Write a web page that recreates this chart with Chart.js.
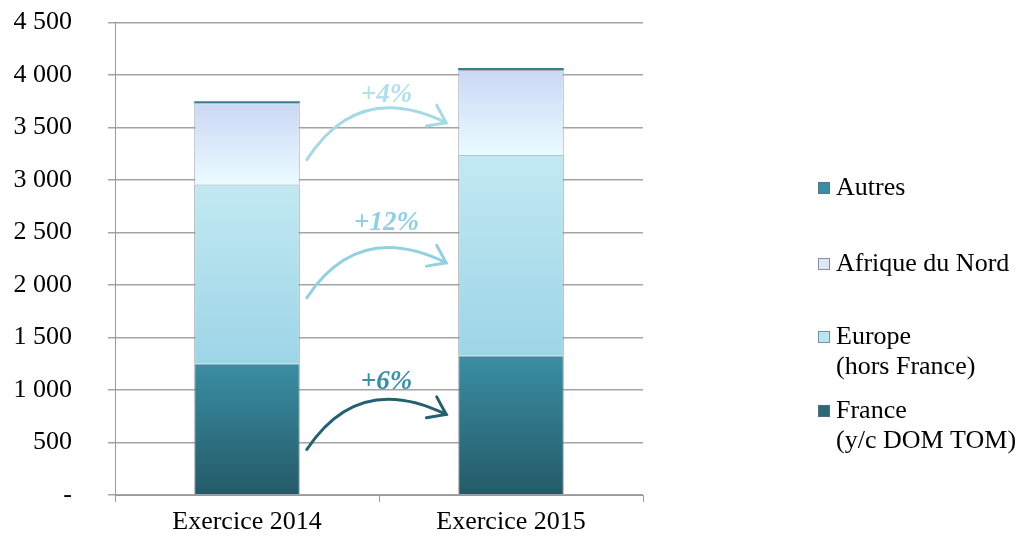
<!DOCTYPE html>
<html lang="fr">
<head>
<meta charset="utf-8">
<title>Répartition par zone géographique</title>
<script src="https://cdn.jsdelivr.net/npm/chart.js@4.4.1/dist/chart.umd.min.js"></script>
<style>
  html, body { margin: 0; padding: 0; background: #fff; }
  #wrap { width: 1026px; height: 539px; }
</style>
</head>
<body>
<div id="wrap"><canvas id="chart" width="1026" height="539"></canvas></div>
<script>
const exercices = ['Exercice 2014', 'Exercice 2015'];

// stacked from bottom to top
const france = [1250, 1326];
const europe = [1706, 1914];
const afriqueNord = [776, 808];
const autres = [18, 18];

const yTicks = [0, 500, 1000, 1500, 2000, 2500, 3000, 3500, 4000, 4500];

// growth arrows between the two bars (values on the y scale)
const growthLabels = ['+6%', '+12%', '+4%'];
const arrowFrom = [433, 1878, 3193];
const arrowTo = [767, 2211, 3545];
const labelAt = [1078, 2590, 3811];

const serif = '"Liberation Serif", "Times New Roman", serif';

const seriesData = [france, europe, afriqueNord, autres];

function segmentGradient(ctx, top, bottom) {
  const chart = ctx.chart;
  const area = chart.chartArea;
  if (!area || ctx.dataIndex === undefined) return top;
  const y = chart.scales.y;
  let base = 0;
  for (let i = 0; i < ctx.datasetIndex; i++) base += seriesData[i][ctx.dataIndex];
  const v = seriesData[ctx.datasetIndex][ctx.dataIndex];
  const y0 = y.getPixelForValue(base + v);
  const y1 = y.getPixelForValue(base);
  const g = chart.ctx.createLinearGradient(0, y0, 0, Math.max(y1, y0 + 1));
  g.addColorStop(0, top);
  g.addColorStop(1, bottom);
  return g;
}

const legendPlugin = {
  id: 'sideLegend',
  afterDraw(chart) {
    const { ctx } = chart;
    const rows = [188, 264, 337, 411];
    const swatch = ['#3a8ea2', '#dfe8f8', '#b9e4f0', '#2c6a7a'];
    const ds = chart.data.datasets.slice().reverse();
    ctx.save();
    ctx.font = '26px ' + serif;
    ctx.textBaseline = 'middle';
    ds.forEach((d, i) => {
      const y = rows[i];
      ctx.fillStyle = swatch[i];
      ctx.fillRect(818, y - 6, 12, 12);
      ctx.strokeStyle = 'rgba(90,110,120,0.7)';
      ctx.lineWidth = 1;
      ctx.strokeRect(818.5, y - 5.5, 11, 11);
      ctx.fillStyle = '#000';
      const lines = Array.isArray(d.label) ? d.label : [d.label];
      lines.forEach((t, k) => ctx.fillText(t, 836, y + k * 30));
    });
    ctx.restore();
  }
};

const arrowPlugin = {
  id: 'growthArrows',
  afterDatasetsDraw(chart) {
    const { ctx } = chart;
    const y = chart.scales.y;
    const bar0 = chart.getDatasetMeta(0).data[0];
    const bar1 = chart.getDatasetMeta(0).data[1];
    const x0 = bar0.x + bar0.width / 2 + 7;
    const x1 = bar1.x - bar1.width / 2 - 12;
    const strokes = ['#25606f', '#93d0e2', '#a6d9e8'];
    const texts = ['#3b8fa4', '#8fcfe1', '#b2dfeb'];
    ctx.save();
    growthLabels.forEach((lbl, i) => {
      const ys = y.getPixelForValue(arrowFrom[i]);
      const ye = y.getPixelForValue(arrowTo[i]);
      const cx = x0 + (x1 - x0) * 0.37;
      const cy = ye - 43;
      ctx.strokeStyle = strokes[i];
      ctx.lineWidth = 3;
      ctx.lineCap = 'round';
      ctx.beginPath();
      ctx.moveTo(x0, ys);
      ctx.quadraticCurveTo(cx, cy, x1, ye);
      ctx.stroke();
      // arrow head along the end tangent
      const ang = Math.atan2(ye - cy, x1 - cx);
      const len = 20;
      ctx.beginPath();
      ctx.moveTo(x1 + len * Math.cos(ang + Math.PI - 0.62), ye + len * Math.sin(ang + Math.PI - 0.62));
      ctx.lineTo(x1, ye);
      ctx.lineTo(x1 + len * Math.cos(ang + Math.PI + 0.62), ye + len * Math.sin(ang + Math.PI + 0.62));
      ctx.stroke();
      ctx.fillStyle = texts[i];
      ctx.font = 'italic bold 27px ' + serif;
      ctx.textAlign = 'center';
      ctx.textBaseline = 'middle';
      ctx.fillText(lbl, (x0 + x1) / 2 + 10, y.getPixelForValue(labelAt[i]));
    });
    ctx.restore();
  }
};

const edge = 'rgba(115,130,140,0.75)';

new Chart(document.getElementById('chart'), {
  type: 'bar',
  data: {
    labels: exercices,
    datasets: [
      {
        label: ['France', '(y/c DOM TOM)'],
        data: france,
        backgroundColor: c => segmentGradient(c, '#3a8ea3', '#245a68'),
        borderColor: edge, borderWidth: 1
      },
      {
        label: ['Europe', '(hors France)'],
        data: europe,
        backgroundColor: c => segmentGradient(c, '#c2e9f2', '#9dd5e7'),
        borderColor: edge, borderWidth: 1
      },
      {
        label: ['Afrique du Nord'],
        data: afriqueNord,
        backgroundColor: c => segmentGradient(c, '#cbd8f5', '#eafbff'),
        borderColor: 'rgba(140,150,160,0.75)', borderWidth: 1
      },
      {
        label: ['Autres'],
        data: autres,
        backgroundColor: '#3a7f8e',
        borderWidth: 0
      }
    ]
  },
  options: {
    responsive: false,
    animation: false,
    barPercentage: 0.4,
    categoryPercentage: 1,
    layout: { padding: { top: 22.5, right: 383, left: 0, bottom: 0 } },
    plugins: {
      legend: { display: false },
      tooltip: { enabled: false }
    },
    scales: {
      x: {
        stacked: true,
        afterFit: s => { s.height = 44; s.paddingLeft = 0; s.paddingRight = 0; },
        grid: { offset: true, drawOnChartArea: false, drawTicks: true, tickLength: 7, color: '#9a9a9a' },
        border: { color: '#9a9a9a' },
        ticks: { color: '#000', padding: 5, font: { family: serif, size: 26 } }
      },
      y: {
        stacked: true,
        min: yTicks[0],
        max: yTicks[yTicks.length - 1],
        afterFit: s => { s.width = 115; s.paddingTop = 0; s.paddingBottom = 0; },
        afterBuildTicks: s => { s.ticks = yTicks.map(v => ({ value: v })); },
        grid: { color: '#a4a4a4', lineWidth: 1.5, tickLength: 7 },
        border: { color: '#9a9a9a' },
        ticks: {
          color: '#000',
          padding: 36,
          font: { family: serif, size: 26 },
          callback: v => v === 0 ? '-' : String(v).replace(/\B(?=(\d{3})+(?!\d))/g, ' ')
        }
      }
    }
  },
  plugins: [arrowPlugin, legendPlugin]
});
</script>
</body>
</html>
